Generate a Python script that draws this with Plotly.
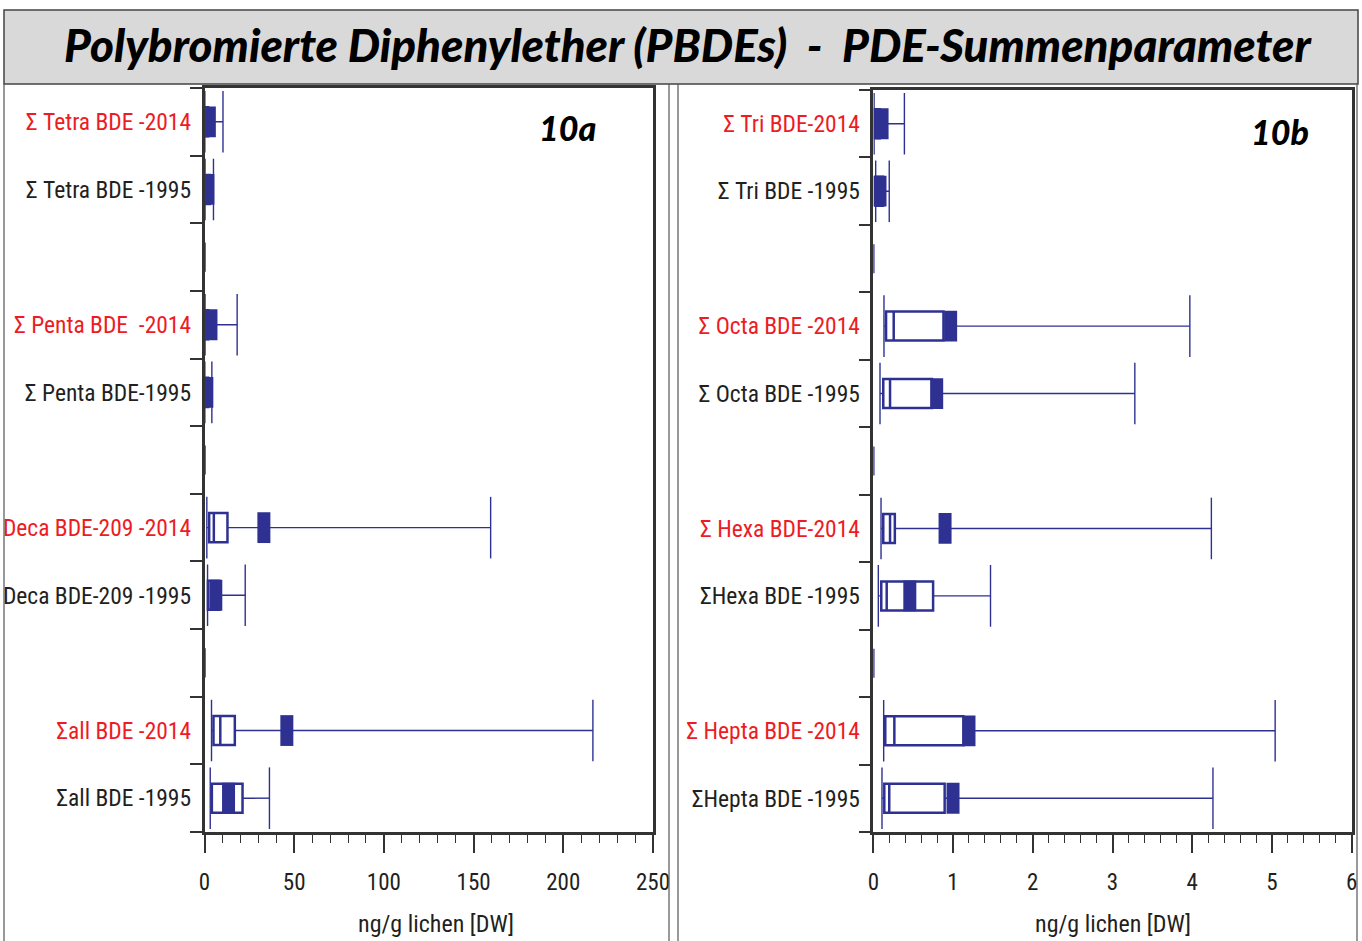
import plotly.graph_objects as go

# ---------------- data ----------------
left_labels = ["Σ Tetra BDE -2014", "Σ Tetra BDE -1995", "", "Σ Penta BDE  -2014", "Σ Penta BDE-1995", "",
               "Deca BDE-209 -2014", "Deca BDE-209 -1995", "", "Σall BDE -2014", "Σall BDE -1995"]
left_min = [0.2, 0.3, 0, 0.3, 0.2, 0, 1.3, 1.7, 0, 3.9, 3.2]
left_q1 = [0.5, 0.5, 0, 0.5, 0.3, 0, 2.6, 1.9, 0, 5.0, 4.1]
left_med = [1.0, 1.5, 0, 1.0, 1.0, 0, 5.2, 4.1, 0, 8.8, 12.0]
left_q3 = [2.0, 3.0, 0, 2.0, 2.0, 0, 12.8, 8.2, 0, 16.9, 21.2]
left_max = [10.3, 5.0, 0, 18.2, 4.1, 0, 159.5, 22.7, 0, 216.5, 36.2]
left_mean = [2.7, 1.9, 0, 3.6, 1.3, 0, 33.1, 6.3, 0, 45.9, 13.4]

right_labels = ["Σ Tri BDE-2014", "Σ Tri BDE -1995", "", "Σ Octa BDE -2014", "Σ Octa BDE -1995", "",
                "Σ Hexa BDE-2014", "ΣHexa BDE -1995", "", "Σ Hepta BDE -2014", "ΣHepta BDE -1995"]
right_min = [0.01, 0.03, 0, 0.134, 0.084, 0, 0.097, 0.063, 0, 0.13, 0.109]
right_q1 = [0.02, 0.03, 0, 0.16, 0.125, 0, 0.125, 0.10, 0, 0.15, 0.138]
right_med = [0.04, 0.06, 0, 0.256, 0.21, 0, 0.21, 0.168, 0, 0.264, 0.20]
right_q3 = [0.08, 0.12, 0, 0.88, 0.736, 0, 0.27, 0.75, 0, 1.13, 0.895]
right_max = [0.39, 0.20, 0, 3.97, 3.28, 0, 4.24, 1.47, 0, 5.04, 4.26]
right_mean = [0.11, 0.084, 0, 0.97, 0.795, 0, 0.90, 0.458, 0, 1.20, 1.00]

left_ticks = [0, 50, 100, 150, 200, 250]
right_ticks = [0, 1, 2, 3, 4, 5, 6]

title_text = "Polybromierte Diphenylether (PBDEs)&nbsp; -&nbsp; PDE-Summenparameter"
xtitle = "ng/g lichen [DW]"

# ---------------- style ----------------
W, H = 1362, 941
BLUE = "#2e3192"
RED = "#ed1c24"
DARK = "#231f20"
AX = "#333333"
NARROW = "Roboto Condensed, DejaVu Sans Condensed, sans-serif"
BOLDF = "Lato, Open Sans, sans-serif"


def px(xp):
    return xp / W


def py(yp):
    return 1 - yp / H


fig = go.Figure()


def add_panel(labels, mn, q1, med, q3, mx, mean, xa, ya):
    pos = list(range(len(labels)))
    wx, wy = [], []
    for i in pos:
        if labels[i] == "":
            continue
        wx += [mn[i], q1[i], None, q3[i], mx[i], None]
        wy += [i, i, None, i, i, None]
    fig.add_trace(go.Scatter(x=wx, y=wy, mode="lines", line=dict(color=BLUE, width=1.4),
                             xaxis=xa, yaxis=ya, showlegend=False, hoverinfo="skip"))
    fig.add_trace(go.Box(y=pos, q1=q1, median=med, q3=q3, lowerfence=q1, upperfence=q3,
                         orientation="h", width=0.43, line=dict(color=BLUE, width=2.5),
                         fillcolor="white", whiskerwidth=0, boxpoints=False,
                         xaxis=xa, yaxis=ya, showlegend=False))
    cx, cy = [], []
    for i in pos:
        if labels[i] == "":
            continue
        cx += [mn[i], mx[i]]
        cy += [i, i]
    fig.add_trace(go.Scatter(x=cx, y=cy, mode="markers",
                             marker=dict(symbol="line-ns", size=44, line=dict(color=BLUE, width=1.4)),
                             xaxis=xa, yaxis=ya, showlegend=False, hoverinfo="skip"))
    mx_, my_ = [], []
    for i in pos:
        if labels[i] == "":
            continue
        mx_.append(mean[i])
        my_.append(i)
    fig.add_trace(go.Scatter(x=mx_, y=my_, mode="markers",
                             marker=dict(symbol="line-ns", size=22, line=dict(color=BLUE, width=13)),
                             xaxis=xa, yaxis=ya, showlegend=False, hoverinfo="skip"))


add_panel(left_labels, left_min, left_q1, left_med, left_q3, left_max, left_mean, "x", "y")
add_panel(right_labels, right_min, right_q1, right_med, right_q3, right_max, right_mean, "x2", "y2")


def ticktext(labels):
    out = []
    for lab in labels:
        if lab == "":
            out.append("")
        elif lab.endswith("2014"):
            out.append('<span style="color:%s">%s</span>' % (RED, lab.replace("  ", "&nbsp; ")))
        else:
            out.append('<span style="color:%s">%s</span>' % (DARK, lab))
    return out


def xaxis_cfg(dom, rng, ticks, minor_d, anchor):
    return dict(domain=dom, range=rng, tickmode="array", tickvals=ticks,
                ticktext=[str(t) for t in ticks], anchor=anchor, automargin=False,
                ticks="outside", ticklen=18, tickwidth=1.5, tickcolor=AX,
                minor=dict(ticks="outside", ticklen=8, tickwidth=1.2, tickcolor=AX, dtick=minor_d, tick0=0,
                           showgrid=False),
                showline=True, linewidth=2.5, linecolor=AX, mirror=True,
                showgrid=False, zeroline=False,
                tickfont=dict(family=NARROW, size=23, color=DARK), ticklabelstandoff=10,
                fixedrange=True)


def yaxis_cfg(dom, labels, anchor):
    n = len(labels)
    return dict(domain=dom, range=[n - 0.5, -0.5], tickmode="array", tickvals=list(range(n)),
                ticktext=ticktext(labels), ticks="", automargin=False,
                minor=dict(ticks="outside", ticklen=12, tickwidth=1.5, tickcolor=AX,
                           tickmode="array", tickvals=[i - 0.5 for i in range(n + 1)], showgrid=False),
                showline=True, linewidth=2.5, linecolor=AX, mirror=True,
                showgrid=False, zeroline=False, anchor=anchor,
                tickfont=dict(family=NARROW, size=23.5, color=DARK), ticklabelstandoff=6,
                fixedrange=True)


fig.update_layout(
    width=W, height=H, autosize=False,
    margin=dict(l=0, r=0, t=0, b=0, autoexpand=False),
    paper_bgcolor="white", plot_bgcolor="white",
    xaxis=xaxis_cfg([px(204.5), px(653)], [0, 250], left_ticks, 10, "y"),
    yaxis=yaxis_cfg([py(832), py(88)], left_labels, "x"),
    xaxis2=xaxis_cfg([px(873.3), px(1351.7)], [0, 6], right_ticks, 0.2, "y2"),
    yaxis2=yaxis_cfg([py(832), py(90)], right_labels, "x2"),
    showlegend=False,
)

shapes = [
    dict(type="rect", xref="paper", yref="paper", x0=px(4), x1=px(1358), y0=py(84), y1=py(10),
         fillcolor="#d9d9d9", line=dict(color="#444444", width=1.5), layer="below"),
]
for xv in [4, 669, 678, 1357]:
    shapes.append(dict(type="line", xref="paper", yref="paper", x0=px(xv), x1=px(xv), y0=py(84), y1=0,
                       line=dict(color="#555555", width=1.2)))
fig.update_layout(shapes=shapes)

annots = [
    dict(text=title_text, x=px(688), y=py(44), xref="paper", yref="paper", showarrow=False,
         xanchor="center", yanchor="middle",
         font=dict(family=BOLDF, size=45.7, color="black", weight=900, style="italic")),
    dict(text="10a", x=px(567), y=py(128), xref="paper", yref="paper", showarrow=False,
         xanchor="center", yanchor="middle",
         font=dict(family=BOLDF, size=34, color="black", weight=900, style="italic")),
    dict(text="10b", x=px(1280), y=py(131), xref="paper", yref="paper", showarrow=False,
         xanchor="center", yanchor="middle",
         font=dict(family=BOLDF, size=34, color="black", weight=900, style="italic")),
    dict(text=xtitle, x=px(435.5), y=py(924), xref="paper", yref="paper", showarrow=False,
         xanchor="center", yanchor="middle", font=dict(family=NARROW, size=24, color=DARK)),
    dict(text=xtitle, x=px(1113), y=py(924), xref="paper", yref="paper", showarrow=False,
         xanchor="center", yanchor="middle", font=dict(family=NARROW, size=24, color=DARK)),
]
fig.update_layout(annotations=annots)

fig.write_html("out.html")
